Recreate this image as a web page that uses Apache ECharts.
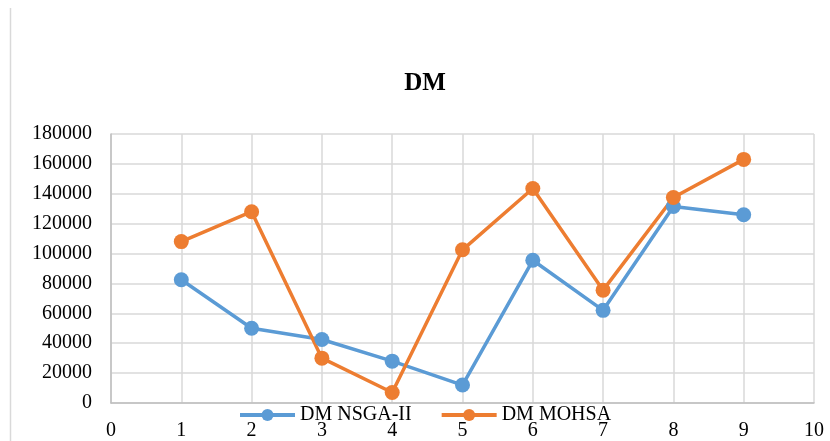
<!DOCTYPE html>
<html>
<head>
<meta charset="utf-8">
<script src="https://cdn.jsdelivr.net/npm/echarts@6/dist/echarts.min.js"></script>
<style>html,body{margin:0;padding:0;background:#fff;}#c{width:830px;height:441px;}</style>
</head>
<body>
<div id="c"></div>
<script>
var xValues = [1, 2, 3, 4, 5, 6, 7, 8, 9];
var nsga = [82500, 50000, 42500, 28000, 12000, 95500, 62000, 131500, 126000];
var mohsa = [108000, 128000, 30000, 7000, 102500, 143500, 75500, 137500, 163000];
var seriesNames = ['DM NSGA-II', 'DM MOHSA'];

function pairs(xs, ys) { return xs.map(function (x, i) { return [x, ys[i]]; }); }

var font = 'Liberation Serif, Times New Roman, serif';
var chart = echarts.init(document.getElementById('c'));
chart.setOption({
  animation: false,
  backgroundColor: '#fff',
  title: {
    text: 'DM', left: 425, top: 71, textAlign: 'center', padding: 0,
    textStyle: { fontFamily: font, fontSize: 25, fontWeight: 'bold', color: '#000' }
  },
  graphic: [{
    type: 'line', shape: { x1: 10.5, y1: 8, x2: 10.5, y2: 441 },
    style: { stroke: '#d9d9d9', lineWidth: 1.5 }
  }],
  grid: { left: 111, right: 16, top: 134, bottom: 35 },
  legend: {
    left: 238, top: 405, padding: 0, itemWidth: 55, itemHeight: 15, itemGap: 28,
    textStyle: { fontFamily: font, fontSize: 20, color: '#000' },
    lineStyle: { width: 4 },
    data: seriesNames
  },
  xAxis: {
    type: 'value', min: 0, max: 10, interval: 1,
    axisLine: { show: true, lineStyle: { color: '#bfbfbf', width: 1.5 } },
    axisTick: { show: false },
    axisLabel: { fontFamily: font, fontSize: 20, color: '#000', margin: 18 },
    splitLine: { show: true, lineStyle: { color: '#d9d9d9', width: 1.5 } }
  },
  yAxis: {
    type: 'value', min: 0, max: 180000, interval: 20000,
    axisLine: { show: true, lineStyle: { color: '#bfbfbf', width: 1.5 } },
    axisTick: { show: false },
    axisLabel: { fontFamily: font, fontSize: 20, color: '#000', margin: 19,
      formatter: function (v) { return String(v); } },
    splitLine: { show: true, lineStyle: { color: '#d9d9d9', width: 1.5 } }
  },
  series: [
    {
      name: seriesNames[0], type: 'line', data: pairs(xValues, nsga),
      symbol: 'circle', symbolSize: 15,
      lineStyle: { width: 3.5, color: '#5b9bd5' }, itemStyle: { color: '#5b9bd5' }
    },
    {
      name: seriesNames[1], type: 'line', data: pairs(xValues, mohsa),
      symbol: 'circle', symbolSize: 15,
      lineStyle: { width: 3.5, color: '#ed7d31' }, itemStyle: { color: '#ed7d31' }
    }
  ]
});
</script>
</body>
</html>
